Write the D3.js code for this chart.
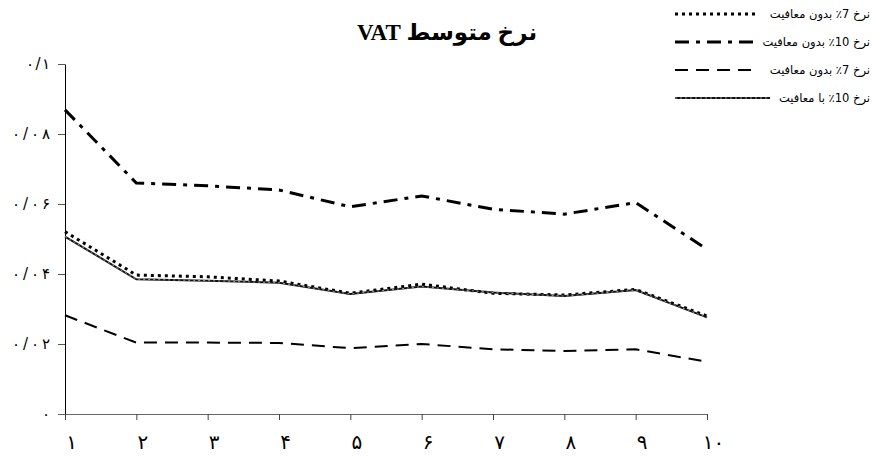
<!DOCTYPE html>
<html>
<head>
<meta charset="utf-8">
<script src="https://cdn.jsdelivr.net/npm/d3@7"></script>
<style>
  body { margin: 0; background: #fff; }
  svg { display: block; }
</style>
</head>
<body>
<svg></svg>
<script>
// data
const categories = [1, 2, 3, 4, 5, 6, 7, 8, 9, 10];
const xTickLabels = ['۱', '۲', '۳', '۴', '۵', '۶', '۷', '۸', '۹', '۱۰'];
const yTicks = [0, 0.02, 0.04, 0.06, 0.08, 0.1];
const yTickLabels = ['۰', '۰/۰۲', '۰/۰۴', '۰/۰۶', '۰/۰۸', '۰/۱'];

const rate7NoExempt = [0.0521, 0.0397, 0.0392, 0.0380, 0.0345, 0.0371, 0.0345, 0.0340, 0.0356, 0.0280];
const rate10NoExempt = [0.0869, 0.0660, 0.0652, 0.0640, 0.0592, 0.0623, 0.0585, 0.0571, 0.0604, 0.0471];
const rate7NoExemptB = [0.0282, 0.0204, 0.0204, 0.0203, 0.0188, 0.0200, 0.0185, 0.0180, 0.0185, 0.0149];
const rate10Exempt = [0.0507, 0.0385, 0.0381, 0.0375, 0.0343, 0.0364, 0.0347, 0.0337, 0.0354, 0.0276];

const seriesNames = ['نرخ 7٪ بدون معافیت', 'نرخ 10٪ بدون معافیت', 'نرخ 7٪ بدون معافیت', 'نرخ 10٪ با معافیت'];

let width = 874, height = 459;
let margin = { top: 64, bottom: 45, left: 65, right: 167 };

let svg = d3.select('svg')
    .attr('width', width)
    .attr('height', height);

let xScale = d3.scalePoint()
    .domain(categories)
    .range([margin.left, width - margin.right]);

let yScale = d3.scaleLinear()
    .domain([0, 0.1])
    .range([height - margin.bottom, margin.top]);

// line styles, one per series
let styles = [
    { width: 3, dash: '3,4', color: '#000' },
    { width: 3, dash: '14,7,4,7', color: '#000' },
    { width: 2, dash: '13,8', color: '#000' },
    { width: 2, dash: null, color: '#111', overlay: true }
];

let series = [rate7NoExempt, rate10NoExempt, rate7NoExemptB, rate10Exempt];

// axes
let yAxis = svg.append('g')
    .attr('transform', `translate(${margin.left}, 0)`)
    .call(d3.axisLeft(yScale).tickValues(yTicks).tickSize(7).tickSizeOuter(0)
        .tickFormat((d, i) => yTickLabels[i]));
yAxis.select('.domain').attr('stroke', '#000');
yAxis.selectAll('.tick line').attr('stroke', '#555');
yAxis.selectAll('.tick text')
    .attr('x', -15)
    .style('font-family', '"DejaVu Sans", sans-serif')
    .style('font-size', '15px')
    .attr('fill', '#000')
    .each(function(d, i) {
        // spread the digits out like the original labels
        let n = yTickLabels[i].length;
        if (n > 1) d3.select(this).attr('textLength', n === 4 ? 38 : 24).attr('lengthAdjust', 'spacing');
    });
yAxis.selectAll('.tick').filter(d => d === 0).select('line').attr('stroke', '#666');

let xAxis = svg.append('g')
    .attr('transform', `translate(0, ${height - margin.bottom})`)
    .call(d3.axisBottom(xScale).tickSize(6).tickSizeOuter(0)
        .tickFormat((d, i) => xTickLabels[i]));
xAxis.select('.domain').attr('stroke', '#666').attr('stroke-width', 1.2);
xAxis.selectAll('.tick line').attr('stroke', '#444');
xAxis.selectAll('.tick text')
    .attr('x', 6)
    .attr('y', 21)
    .style('font-family', '"DejaVu Sans ExtraLight", "DejaVu Sans", sans-serif')
    .style('font-size', '20px')
    .attr('fill', '#000');

let line = d3.line()
    .x((d, i) => xScale(categories[i]))
    .y(d => yScale(d));

series.forEach(function(values, k) {
    let s = styles[k];
    svg.append('path')
        .datum(values)
        .attr('d', line)
        .attr('fill', 'none')
        .attr('stroke', s.color)
        .attr('stroke-width', s.width)
        .attr('stroke-dasharray', s.dash);
    if (s.overlay) {
        svg.append('path')
            .datum(values)
            .attr('d', line)
            .attr('fill', 'none')
            .attr('stroke', '#999')
            .attr('stroke-width', 1)
            .attr('stroke-dasharray', '2,3');
    }
});

// title
svg.append('text')
    .attr('x', 447)
    .attr('y', 40)
    .attr('text-anchor', 'middle')
    .attr('direction', 'rtl')
    .style('font-family', '"Liberation Serif", "DejaVu Sans", serif')
    .style('font-weight', 'bold')
    .style('font-size', '23px')
    .text('نرخ متوسط VAT');

// legend
let legendRows = [14, 42, 70, 98];
seriesNames.forEach(function(name, k) {
    let s = styles[k];
    let y = legendRows[k];
    let x2 = k === 3 ? 770 : 755;
    svg.append('line')
        .attr('x1', 675).attr('x2', x2)
        .attr('y1', y).attr('y2', y)
        .attr('stroke', s.color)
        .attr('stroke-width', s.width)
        .attr('stroke-dasharray', s.dash);
    if (s.overlay) {
        svg.append('line')
            .attr('x1', 675).attr('x2', x2)
            .attr('y1', y).attr('y2', y)
            .attr('stroke', '#999')
            .attr('stroke-width', 1)
            .attr('stroke-dasharray', '2,3');
    }
    svg.append('text')
        .attr('x', 870)
        .attr('y', y + 4)
        .attr('direction', 'rtl')
        .attr('text-anchor', 'start')
        .style('font-family', '"DejaVu Sans", serif')
        .style('font-size', '11.5px')
        .text(name);
});
</script>
</body>
</html>
